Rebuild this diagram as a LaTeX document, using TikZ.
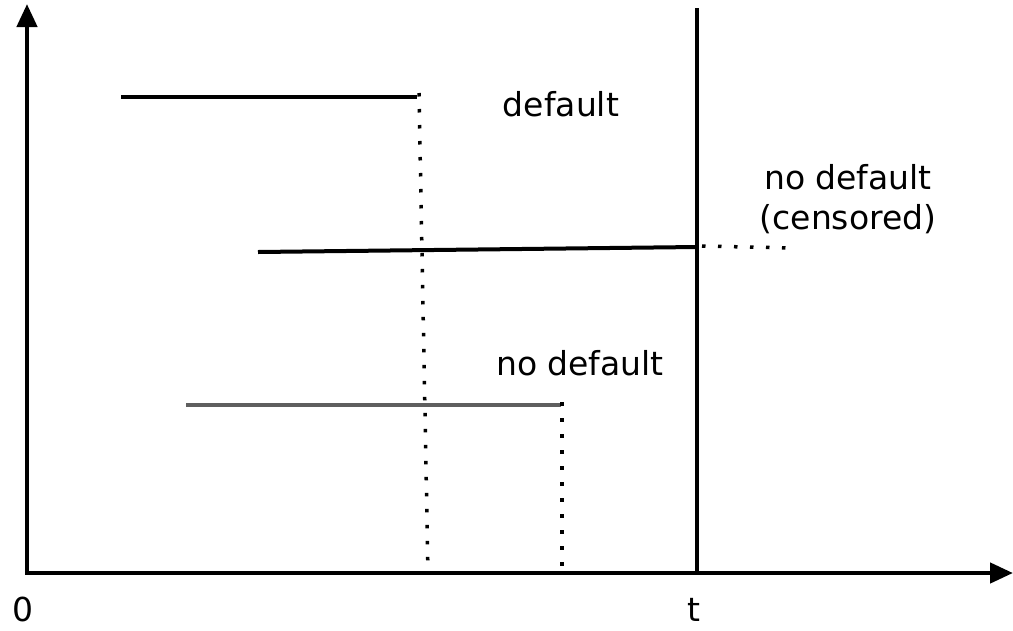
\documentclass[tikz,border=0pt]{standalone}
\usepackage{fontspec}
\setmainfont{DejaVu Sans}
\usetikzlibrary{arrows.meta,positioning}
\definecolor{SpellGray}{HTML}{5F5F5F}

\begin{document}
\begin{tikzpicture}[x=1pt, y=-1pt,
  axis/.style={line width=4.5pt, -{Triangle[length=23pt,width=20pt]}},
  spell/.style={line width=4pt},
  spellgray/.style={line width=3.5pt, draw=SpellGray},
  dots/.style={line width=3.5pt, dash pattern=on 3.5pt off 12.5pt},
  lbl/.style={font=\fontsize{33}{40}\selectfont, inner sep=0pt, align=center}]
  \useasboundingbox (0,0) rectangle (1013,630);

  % axes and the horizon t
  \coordinate (o) at (27,573);
  \coordinate (ytop) at (27,4);
  \coordinate (xend) at (1013,573);
  \coordinate (ttop) at (697,8);
  \coordinate (tbot) at (697,573);
  \draw[axis] ([yshift=2pt]o) -- (ytop);
  \draw[axis] ([xshift=-2pt]o) -- (xend);
  \draw[line width=4.5pt] (tbot) -- (ttop);

  % spell ending in default
  \coordinate (d1) at (121,97);
  \coordinate (d2) at (417,97);
  \coordinate (d3) at (428,573);
  \draw[spell] (d1) -- (d2);
  \draw[dots] ([xshift=2pt,yshift=4pt]d2) -- (d3);

  % spell cut off at t
  \coordinate (c1) at (258,252);
  \coordinate (c2) at (697,247);
  \coordinate (c3) at (792,248);
  \draw[spell] (c1) -- (c2);
  \draw[dots] ([xshift=5pt,yshift=1pt]c2) -- (c3);

  % spell ending without default
  \coordinate (n1) at (186,405);
  \coordinate (n2) at (561,405);
  \coordinate (n3) at (562,573);
  \draw[spellgray] (n1) -- (n2);
  \draw[dots] ([xshift=1pt,yshift=3pt]n2) -- (n3);

  % labels
  \node[lbl, anchor=base] (ldef) at (561,116) {default};
  \node[lbl, anchor=base] (lnodef) at (580,375) {no default};
  \node[lbl] (lcens) at (848,199) {no default\\(censored)};
  \node[lbl, anchor=base] (lzero) at (23,621) {0};
  \node[lbl, anchor=base] (lt) at (694,621) {t};
\end{tikzpicture}
\end{document}
